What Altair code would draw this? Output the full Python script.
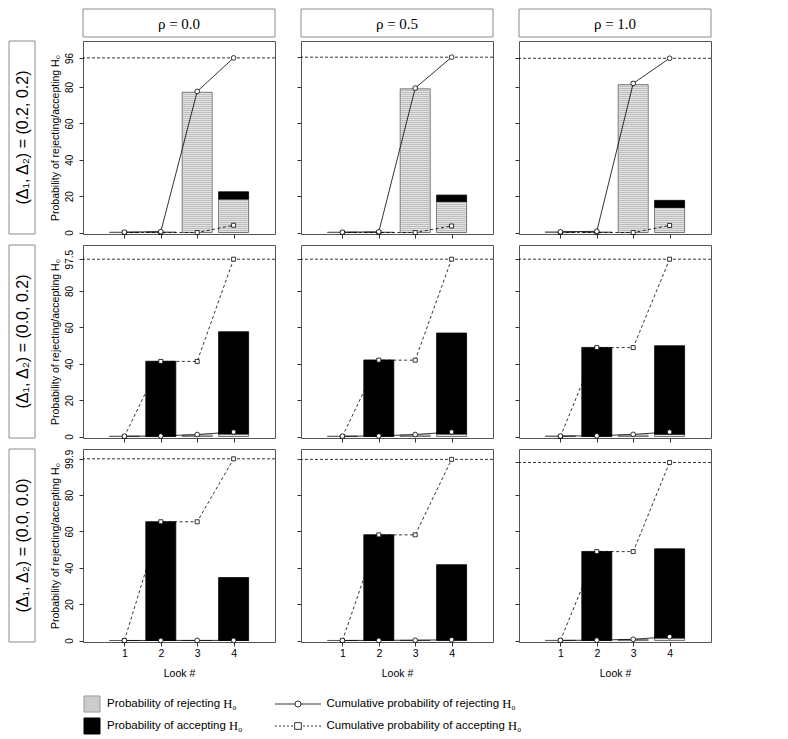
import altair as alt
import pandas as pd
from itertools import accumulate

# ---------------- data (percent) ----------------
looks = [1, 2, 3, 4]
rho_labels = ["ρ = 0.0", "ρ = 0.5", "ρ = 1.0"]
delta_labels = ["(Δ₁, Δ₂) = (0.2, 0.2)", "(Δ₁, Δ₂) = (0.0, 0.2)", "(Δ₁, Δ₂) = (0.0, 0.0)"]

# probability of rejecting H0 at each look  [row][col][look]
reject_probs = [
    [[0.2, 0.3, 77.1, 18.4], [0.2, 0.2, 79.0, 17.0], [0.4, 0.3, 81.3, 13.8]],
    [[0.2, 0.1, 0.8, 1.4], [0.2, 0.1, 0.8, 1.4], [0.3, 0.1, 0.8, 1.3]],
    [[0.03, 0.03, 0.02, 0.02], [0.05, 0.05, 0.1, 0.2], [0.1, 0.1, 0.5, 1.4]],
]
# probability of accepting H0 at each look  [row][col][look]
accept_probs = [
    [[0, 0, 0, 4.0], [0, 0, 0, 3.6], [0, 0, 0, 3.9]],
    [[0, 41.3, 0, 56.2], [0, 42.0, 0, 55.5], [0, 48.9, 0, 48.6]],
    [[0, 65.3, 0, 34.6], [0, 58.1, 0, 41.5], [0, 48.9, 0, 49.0]],
]
y_ticks = [0, 20, 40, 60, 80]
look_ticks = [1, 2, 3, 4]
y_title = "Probability of rejecting/accepting H₀"
x_title = "Look #"
legend_labels = ["Probability of rejecting", "Probability of accepting",
                 "Cumulative probability of rejecting", "Cumulative probability of accepting"]
h0 = "H₀"

# ---------------- tables ----------------
records = []
ref_levels = [[0] * 3 for _ in range(3)]
for r in range(3):
    for c in range(3):
        rej = reject_probs[r][c]
        acc = accept_probs[r][c]
        crej = [round(v, 2) for v in accumulate(rej)]
        cacc = [round(v, 2) for v in accumulate(acc)]
        ref_levels[r][c] = round(max(crej[-1], cacc[-1]), 1)
        for i, lk in enumerate(looks):
            records.append(dict(row=r, col=c, look=lk, reject=rej[i], accept=acc[i],
                                top=round(rej[i] + acc[i], 2),
                                cum_rej=crej[i], cum_acc=cacc[i]))
frame = pd.DataFrame(records)

PW, PH = 192, 193
LABW = 48
GREY_BOX = "#8c8c8c"
xscale = alt.Scale(domain=[0, 5], nice=False, zero=False)
yscale = alt.Scale(domain=[-0.8, 105.3], nice=False, zero=False)


def x_axis(r):
    if r == 2:
        return alt.Axis(values=look_ticks, format="d", labelAngle=0, tickSize=4, labelPadding=2,
                        labelFontSize=10.5, title=x_title, titleFontSize=10.5, titleY=31,
                        titleBaseline="middle", titleAlign="center", domain=False, grid=False,
                        labelFlush=False)
    return alt.Axis(values=look_ticks, labels=False, tickSize=4, title="", domain=False, grid=False)


def y_axis(c, ref):
    vals = y_ticks + [ref]
    if c == 0:
        return alt.Axis(values=vals, labelExpr="'' + datum.value", labelAngle=270,
                        labelAlign="center", labelBaseline="bottom", labelPadding=5, tickSize=4,
                        labelFontSize=10, labelOverlap=False, labelFlush=False,
                        title=y_title, titleFontSize=10.5, titleAngle=270, titleX=-28,
                        titleY=PH / 2, titleAlign="center", titleBaseline="middle",
                        domain=False, grid=False)
    return alt.Axis(values=vals, labels=False, tickSize=4, title="", domain=False, grid=False)


def panel(r, c):
    d = frame[(frame.row == r) & (frame.col == c)]
    ref = ref_levels[r][c]
    xa = x_axis(r)
    ya = y_axis(c, ref)

    def X():
        return alt.X("look:Q", scale=xscale, axis=xa)

    def Y(f):
        return alt.Y(f, type="quantitative", scale=yscale, axis=ya)

    base = alt.Chart(d)
    rej_bar = base.mark_bar(size=30, fill="#e3e3e3", stroke="#555555", strokeWidth=0.8).encode(
        x=X(), y=Y("reject"))
    hatch = (base.transform_filter("datum.reject > 1.5")
             .transform_calculate(h="sequence(1.1, datum.reject - 0.4, 1.1)")
             .transform_flatten(["h"])
             .mark_tick(orient="horizontal", size=28, thickness=0.9, color="#b9b9b9", opacity=1)
             .encode(x=X(), y=Y("h")))
    acc_bar = (base.transform_filter("datum.accept > 0")
               .mark_bar(size=30, fill="black", stroke="black", strokeWidth=0.8)
               .encode(x=X(), y=Y("reject"), y2="top:Q"))
    refline = (base.transform_filter("datum.look == 4")
               .transform_calculate(ref="max(datum.cum_rej, datum.cum_acc)")
               .mark_rule(color="black", strokeWidth=0.8, strokeDash=[3, 2])
               .encode(y=Y("ref")))
    line_acc = base.mark_line(color="black", strokeWidth=0.8, strokeDash=[3, 2.5]).encode(
        x=X(), y=Y("cum_acc"))
    line_rej = base.mark_line(color="black", strokeWidth=0.8).encode(x=X(), y=Y("cum_rej"))
    pts_acc = base.mark_point(shape="square", size=16, filled=True, fill="white", stroke="black",
                              strokeWidth=0.8, opacity=1).encode(x=X(), y=Y("cum_acc"))
    pts_rej = base.mark_point(shape="circle", size=22, filled=True, fill="white", stroke="black",
                              strokeWidth=0.8, opacity=1).encode(x=X(), y=Y("cum_rej"))
    return alt.layer(rej_bar, hatch, acc_bar, refline, line_acc, line_rej, pts_acc, pts_rej
                     ).properties(width=PW, height=PH)


one = pd.DataFrame({"k": [0]})
no_frame = alt.ViewBackground(strokeOpacity=0)


def blank(w, h):
    return alt.Chart(one).mark_text(text=" ", fontSize=1).encode(
        x=alt.value(w / 2), y=alt.value(h / 2)).properties(width=w, height=h, view=no_frame)


def header(i):
    box = alt.Chart(one).mark_rect(fill="white", stroke=GREY_BOX, strokeWidth=1).encode(
        x=alt.value(0), x2=alt.value(PW), y=alt.value(0), y2=alt.value(28))
    txt = alt.Chart(one).mark_text(text=rho_labels[i], font="Liberation Serif", fontSize=15,
                                   color="black").encode(x=alt.value(PW / 2), y=alt.value(14.5))
    return alt.layer(box, txt).properties(width=PW, height=21, view=no_frame)


def row_label(r):
    box = alt.Chart(one).mark_rect(fill="white", stroke=GREY_BOX, strokeWidth=1).encode(
        x=alt.value(0), x2=alt.value(26), y=alt.value(0), y2=alt.value(PH))
    txt = alt.Chart(one).mark_text(text=delta_labels[r], font="Liberation Sans", fontSize=16,
                                   angle=270, color="black").encode(
        x=alt.value(13.5), y=alt.value(PH / 2))
    return alt.layer(box, txt).properties(width=LABW, height=PH, view=no_frame)


HELV = {' ': 278, 'P': 667, 'r': 333, 'o': 556, 'b': 556, 'a': 556, 'i': 222, 'l': 222,
        't': 278, 'y': 500, 'f': 278, 'e': 556, 'j': 222, 'c': 500, 'n': 556, 'g': 556,
        'p': 556, 'C': 722, 'u': 556, 'm': 833, 'v': 500}


def tw(s, fs):
    return sum(HELV.get(ch, 556) for ch in s) / 1000 * fs


def legend_cell():
    LFS = 11.5
    y0, y1 = 51, 73
    layers = []
    # hatched swatch
    layers.append(alt.Chart(one).mark_rect(fill="#e3e3e3", stroke="#777777", strokeWidth=0.8).encode(
        x=alt.value(75), x2=alt.value(91), y=alt.value(y0 - 8), y2=alt.value(y0 + 8)))
    layers.append(alt.Chart(one).transform_calculate(s="sequence(%d, %d, 2)" % (y0 - 6, y0 + 8))
                  .transform_flatten(["s"]).mark_rule(color="#b5b5b5", strokeWidth=1)
                  .encode(x=alt.value(75.5), x2=alt.value(90.5), y=alt.Y("s:Q", scale=None)))
    # black swatch
    layers.append(alt.Chart(one).mark_rect(fill="black", stroke="black").encode(
        x=alt.value(75), x2=alt.value(91), y=alt.value(y1 - 8), y2=alt.value(y1 + 8)))
    # line symbols
    layers.append(alt.Chart(one).mark_rule(color="black", strokeWidth=0.8).encode(
        x=alt.value(266), x2=alt.value(312), y=alt.value(y0)))
    layers.append(alt.Chart(one).mark_point(shape="circle", size=36, filled=True, fill="white",
                                            stroke="black", strokeWidth=0.8, opacity=1).encode(
        x=alt.value(289), y=alt.value(y0)))
    layers.append(alt.Chart(one).mark_rule(color="black", strokeWidth=0.8, strokeDash=[2, 2]).encode(
        x=alt.value(266), x2=alt.value(312), y=alt.value(y1)))
    layers.append(alt.Chart(one).mark_point(shape="square", size=45, filled=True, fill="white",
                                            stroke="black", strokeWidth=0.8, opacity=1).encode(
        x=alt.value(289), y=alt.value(y1)))
    # texts
    spots = [(98, y0), (98, y1), (317.5, y0), (317.5, y1)]
    for lab, (tx, ty) in zip(legend_labels, spots):
        layers.append(alt.Chart(one).mark_text(text=lab, font="Liberation Sans", fontSize=LFS,
                                               align="left", baseline="middle", color="black")
                      .encode(x=alt.value(tx), y=alt.value(ty)))
        layers.append(alt.Chart(one).mark_text(text=h0, font="Liberation Serif", fontSize=12.5,
                                               align="left", baseline="middle", color="black")
                      .encode(x=alt.value(tx + tw(lab + " ", LFS)), y=alt.value(ty)))
    return alt.layer(*layers).properties(width=LABW, height=10, view=no_frame)


cells = [blank(LABW, 21)] + [header(i) for i in range(3)]
for r in range(3):
    cells.append(row_label(r))
    for c in range(3):
        cells.append(panel(r, c))
cells.append(legend_cell())

chart = alt.concat(*cells, columns=4, spacing={"row": 11, "column": 26}, bounds="flush",
                   align="each").properties(padding=0).configure_view(
    stroke="#555555", strokeWidth=1).configure_axis(
    labelFont="Liberation Sans", titleFont="Liberation Sans", labelColor="black",
    titleColor="black", tickColor="#333333", titleFontWeight="normal")

chart.save("out.html", embed_options={"renderer": "svg", "actions": False})
